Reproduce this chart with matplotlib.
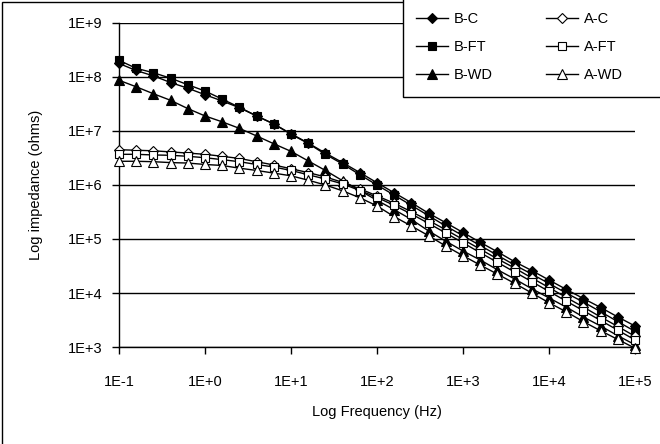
import matplotlib
matplotlib.use("Agg")
import matplotlib.pyplot as plt
from matplotlib.patches import Rectangle

plt.rcParams['font.family'] = ['Liberation Sans', 'DejaVu Sans']
plt.rcParams['font.size'] = 10.5

# Frequencies (Hz), 5 points per decade
freq = [0.1, 0.158, 0.251, 0.398, 0.631, 1.0, 1.58, 2.51, 3.98, 6.31,
        10, 15.8, 25.1, 39.8, 63.1, 100, 158, 251, 398, 631,
        1000, 1580, 2510, 3980, 6310, 10000, 15800, 25100, 39800, 63100, 100000]

# Impedance (ohms)
b_c = [1.78e8, 1.32e8, 1.05e8, 7.9e7, 6.2e7, 4.7e7, 3.6e7, 2.7e7, 1.9e7, 1.35e7,
       8.9e6, 6.0e6, 3.9e6, 2.6e6, 1.7e6, 1.1e6, 7.2e5, 4.7e5, 3.0e5, 2.0e5,
       1.32e5, 8.7e4, 5.8e4, 3.8e4, 2.6e4, 1.74e4, 1.17e4, 7.9e3, 5.4e3, 3.6e3, 2.45e3]
b_ft = [2.04e8, 1.45e8, 1.2e8, 9.5e7, 7.2e7, 5.5e7, 3.9e7, 2.75e7, 1.9e7, 1.35e7,
        8.7e6, 5.9e6, 3.7e6, 2.45e6, 1.55e6, 1.0e6, 6.5e5, 4.2e5, 2.7e5, 1.74e5,
        1.15e5, 7.6e4, 5.0e4, 3.3e4, 2.24e4, 1.5e4, 1.0e4, 6.8e3, 4.5e3, 2.95e3, 1.95e3]
b_wd = [8.7e7, 6.6e7, 4.9e7, 3.7e7, 2.6e7, 1.9e7, 1.48e7, 1.12e7, 8.1e6, 5.8e6,
        4.2e6, 2.8e6, 1.86e6, 1.2e6, 7.9e5, 5.2e5, 3.5e5, 2.3e5, 1.41e5, 9.1e4,
        6.0e4, 4.1e4, 2.7e4, 1.82e4, 1.2e4, 8.1e3, 5.5e3, 3.6e3, 2.45e3, 1.62e3, 1.1e3]
a_c = [4.5e6, 4.4e6, 4.3e6, 4.1e6, 3.9e6, 3.7e6, 3.4e6, 3.1e6, 2.7e6, 2.35e6,
       2.0e6, 1.7e6, 1.41e6, 1.12e6, 8.5e5, 6.3e5, 4.6e5, 3.2e5, 2.2e5, 1.48e5,
       9.8e4, 6.5e4, 4.3e4, 2.9e4, 1.9e4, 1.26e4, 8.3e3, 5.5e3, 3.6e3, 2.4e3, 1.58e3]
a_ft = [3.7e6, 3.7e6, 3.6e6, 3.55e6, 3.4e6, 3.2e6, 2.95e6, 2.7e6, 2.4e6, 2.15e6,
        1.86e6, 1.55e6, 1.29e6, 1.05e6, 7.9e5, 5.9e5, 4.2e5, 2.9e5, 1.95e5, 1.29e5,
        8.5e4, 5.6e4, 3.7e4, 2.45e4, 1.62e4, 1.07e4, 7.1e3, 4.7e3, 3.1e3, 2.05e3, 1.35e3]
a_wd = [2.75e6, 2.75e6, 2.7e6, 2.6e6, 2.55e6, 2.4e6, 2.3e6, 2.05e6, 1.86e6, 1.66e6,
        1.48e6, 1.23e6, 1.0e6, 7.8e5, 5.8e5, 4.1e5, 2.6e5, 1.74e5, 1.15e5, 7.4e4,
        4.9e4, 3.3e4, 2.24e4, 1.51e4, 1.0e4, 6.6e3, 4.5e3, 2.95e3, 2.0e3, 1.38e3, 9.5e2]

x_ticks = [1e-1, 1e0, 1e1, 1e2, 1e3, 1e4, 1e5]
x_labels = ['1E-1', '1E+0', '1E+1', '1E+2', '1E+3', '1E+4', '1E+5']
y_ticks = [1e3, 1e4, 1e5, 1e6, 1e7, 1e8, 1e9]
y_labels = ['1E+3', '1E+4', '1E+5', '1E+6', '1E+7', '1E+8', '1E+9']

fig = plt.figure(figsize=(6.6, 4.44), dpi=100)
ax = fig.add_axes([119 / 660, 1 - 347 / 444, 516 / 660, 324 / 444])

# series: data, label, marker, size, filled
series = [
    (b_c, 'B-C', 'D', 5, True),
    (b_ft, 'B-FT', 's', 5.5, True),
    (b_wd, 'B-WD', '^', 6.5, True),
    (a_c, 'A-C', 'D', 5, False),
    (a_ft, 'A-FT', 's', 5.5, False),
    (a_wd, 'A-WD', '^', 6.5, False),
]
for vals, lab, mk, ms, filled in series:
    ax.plot(freq, vals, color='black', lw=1, marker=mk, markersize=ms,
            markerfacecolor='black' if filled else 'white',
            markeredgecolor='black', markeredgewidth=0.8, label=lab,
            zorder=3, clip_on=False)

ax.set_xscale('log')
ax.set_yscale('log')
ax.set_xlim(1e-1, 1e5)
ax.set_ylim(1e3, 1e9)
ax.set_xticks(x_ticks)
ax.set_xticklabels(x_labels)
ax.set_yticks(y_ticks)
ax.set_yticklabels(y_labels)
ax.minorticks_off()
ax.tick_params(axis='x', direction='out', length=5, width=1, pad=15)
ax.tick_params(axis='y', direction='out', length=5, width=1, pad=7)
ax.yaxis.grid(True, color='black', lw=1)
ax.set_axisbelow(True)
for s in ['top', 'right']:
    ax.spines[s].set_visible(False)
for s in ['left', 'bottom']:
    ax.spines[s].set_linewidth(1)

ax.set_xlabel('Log Frequency (Hz)', labelpad=12)
ax.set_ylabel('Log impedance (ohms)', labelpad=18)

# figure border
fig.patches.append(Rectangle((2 / 660, -0.05), 1.1, 1 - 2 / 444 + 0.05,
                             transform=fig.transFigure, fill=False,
                             edgecolor='black', lw=1))
# legend box
fig.patches.append(Rectangle((403 / 660, 1 - 97 / 444), 0.5, 0.5,
                             transform=fig.transFigure, facecolor='white',
                             edgecolor='black', lw=1, zorder=5))
leg = fig.legend(loc='upper left', bbox_to_anchor=(409 / 660, 1 - 5 / 444),
                 ncol=2, frameon=False, handlelength=2.2, handletextpad=0.4,
                 columnspacing=3.6, labelspacing=0.95, borderpad=0,
                 fontsize=10.5)
leg.set_zorder(6)

fig.savefig('out.png', dpi=100)
